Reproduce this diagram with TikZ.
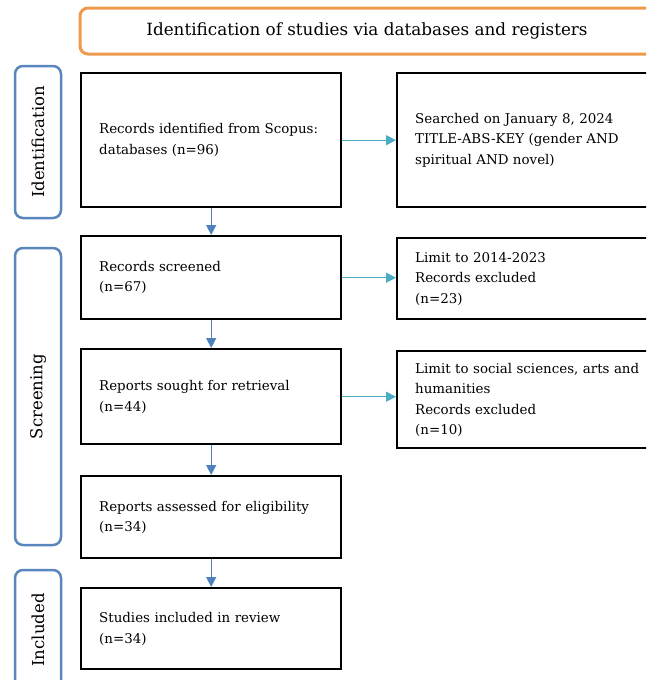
\documentclass[tikz,border=0pt]{standalone}
\usepackage{fontspec}
\setmainfont{DejaVu Serif}
\usetikzlibrary{arrows.meta,positioning}
\definecolor{phaseblue}{HTML}{5A86BE}
\definecolor{headorange}{HTML}{EE9A4D}
\definecolor{flowblue}{HTML}{4F81BD}
\definecolor{flowcyan}{HTML}{4BACC6}
\tikzset{
	basebox/.style = {rectangle, inner sep=0pt, text=black},
	recbox/.style = {basebox, draw=black, line width=2.4pt, align=left, 
		anchor=north west, inner xsep=18pt, text width=224pt, 
		font=\fontsize{13.4}{20.5}\selectfont},
	notebox/.style = {recbox, text width=240pt},
	headbox/.style = {basebox, draw=headorange, line width=3pt, rounded corners=8pt, 
		minimum width=574pt, minimum height=46pt, font=\fontsize{16.8}{19}\selectfont},
	phasebox/.style = {basebox, draw=phaseblue, line width=2.5pt, rounded corners=8pt, 
		rotate=90, minimum height=46pt, font=\fontsize{16.5}{19}\selectfont},
	down/.style = {->, draw=flowblue, line width=1.4pt},
	side/.style = {->, draw=flowcyan, line width=1.4pt}
}

\begin{document}
\begin{tikzpicture}[x=1pt, y=-1pt,
>={Triangle[length=10pt, width=10pt]}]
\clip (0,0) rectangle (646,680);
\node (head) [headbox] at (367,31) {Identification of studies via databases and registers};
%----------------- Phases --------------
\node (ident) [phasebox, minimum width=152pt] at (38,142) {Identification};
\node (screen) [phasebox, minimum width=297pt] at (38,396.5) {Screening};
\node (incl) [phasebox, minimum width=120pt] at (38,630) {Included};
%----------------- Main flow --------------
\node (recA) [recbox, minimum height=134pt] at (80,72) {Records identified from Scopus:\\databases (n=96)};
\node (recC) [recbox, minimum height=83pt] at (80,235) {Records screened\\(n=67)};
\node (recD) [recbox, minimum height=95pt] at (80,348) {Reports sought for retrieval\\(n=44)};
\node (recG) [recbox, minimum height=82pt] at (80,475) {Reports assessed for eligibility\\(n=34)};
\node (recH) [recbox, minimum height=81pt] at (80,587) {Studies included in review\\(n=34)};
%----------------- Side notes --------------
\node (srchB) [notebox, minimum height=134pt] at (396,72) {Searched on January 8, 2024\\TITLE-ABS-KEY (gender AND\\spiritual AND novel)};
\node (exclE) [notebox, minimum height=81pt] at (396,237) {Limit to 2014-2023\\Records excluded\\(n=23)};
\node (exclF) [notebox, minimum height=97pt] at (396,350) {Limit to social sciences, arts and\\humanities\\Records excluded\\(n=10)};
%----------------- Arrows --------------
\draw[down] (recA) -- (recC);
\draw[down] (recC) -- (recD);
\draw[down] (recD) -- (recG);
\draw[down] (recG) -- (recH);
\draw[side] (recA) -- (srchB);
\draw[side] (recC.east) -- (recC.east -| exclE.west);
\draw[side] (recD.east) -- (recD.east -| exclF.west);
\end{tikzpicture}
\end{document}
